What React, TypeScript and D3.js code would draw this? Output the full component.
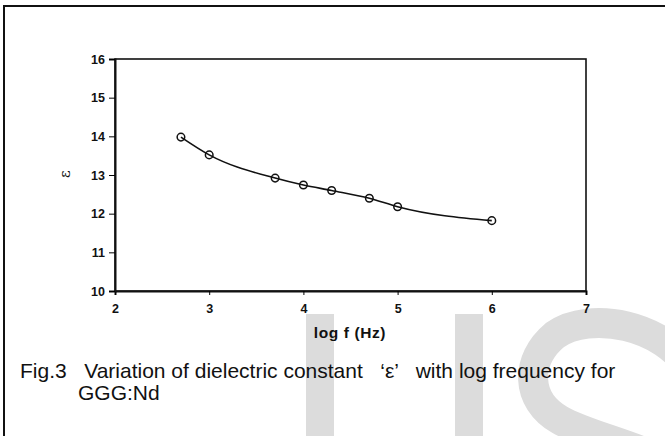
import React, { useEffect, useRef } from "react";
import * as d3 from "d3";

const logFreq = [2.7, 3.0, 3.7, 4.0, 4.3, 4.7, 5.0, 6.0];
const epsilon = [13.98, 13.52, 12.92, 12.74, 12.6, 12.4, 12.18, 11.82];
const xTicks = [2, 3, 4, 5, 6, 7];
const yTicks = [10, 11, 12, 13, 14, 15, 16];
const xLabel = "log f (Hz)";
const yLabel = "\u03b5";
const captionLine1 = "Fig.3   Variation of dielectric constant   \u2018\u03b5\u2019   with log frequency for";
const captionLine2 = "GGG:Nd";

const W = 665;
const H = 436;

export default function App() {
  const ref = useRef<SVGSVGElement>(null);

  useEffect(() => {
    const svg = d3.select(ref.current);
    svg.selectAll("*").remove();

    const x = d3.scaleLinear().domain([2, 7]).range([115, 586]);
    const y = d3.scaleLinear().domain([10, 16]).range([291, 59]);

    // watermark behind everything
    const wm = svg.append("g").attr("fill", "#dcdcdc").attr("stroke", "#dcdcdc");
    wm.append("rect").attr("x", 306).attr("y", 314).attr("width", 28).attr("height", 140).attr("stroke", "none");
    wm.append("rect").attr("x", 455).attr("y", 314).attr("width", 28).attr("height", 140).attr("stroke", "none");
    wm.append("path")
      .attr("fill", "none")
      .attr("stroke-width", 30)
      .attr("d", "M690,370 C665,325 590,310 555,335 C525,360 525,400 560,420 C590,437 640,445 680,470");

    // outer frame
    svg.append("rect")
      .attr("x", 4).attr("y", 6)
      .attr("width", 700).attr("height", 460)
      .attr("fill", "none").attr("stroke", "#111").attr("stroke-width", 2);

    // plot box
    svg.append("rect")
      .attr("x", x(2)).attr("y", y(16))
      .attr("width", x(7) - x(2)).attr("height", y(10) - y(16))
      .attr("fill", "none").attr("stroke", "#111").attr("stroke-width", 1.6);

    const xAxis = svg.append("g")
      .attr("transform", `translate(0,${y(10)})`)
      .call(d3.axisBottom(x).tickValues(xTicks).tickSize(4).tickPadding(9).tickFormat(d3.format("d")));
    xAxis.select(".domain").attr("stroke-width", 2).attr("stroke", "#111");
    xAxis.selectAll("text").attr("font-family", "Liberation Sans, Arial, sans-serif")
      .attr("font-size", 12.5).attr("font-weight", "bold").attr("fill", "#111");

    const yAxis = svg.append("g")
      .attr("transform", `translate(${x(2)},0)`)
      .call(d3.axisLeft(y).tickValues(yTicks).tickSize(6).tickPadding(4).tickFormat(d3.format("d")));
    yAxis.select(".domain").attr("stroke-width", 2).attr("stroke", "#111");
    yAxis.selectAll("text").attr("font-family", "Liberation Sans, Arial, sans-serif")
      .attr("font-size", 12.5).attr("font-weight", "bold").attr("fill", "#111");

    const pts = logFreq.map((f, i) => ({ f, e: epsilon[i] }));

    const line = d3.line<{ f: number; e: number }>()
      .x(d => x(d.f))
      .y(d => y(d.e))
      .curve(d3.curveMonotoneX);

    svg.append("path")
      .datum(pts)
      .attr("fill", "none")
      .attr("stroke", "#111")
      .attr("stroke-width", 1.6)
      .attr("d", line);

    svg.selectAll("circle.pt")
      .data(pts)
      .join("circle")
      .attr("class", "pt")
      .attr("cx", d => x(d.f))
      .attr("cy", d => y(d.e))
      .attr("r", 3.8)
      .attr("fill", "none")
      .attr("stroke", "#111")
      .attr("stroke-width", 1.5);

    svg.append("text")
      .attr("x", 350).attr("y", 338)
      .attr("text-anchor", "middle")
      .attr("font-family", "Liberation Sans, Arial, sans-serif")
      .attr("font-size", 15.5).attr("font-weight", "bold").attr("fill", "#111")
      .attr("letter-spacing", 0.6)
      .text(xLabel);

    svg.append("text")
      .attr("transform", "translate(70,174) rotate(-90)")
      .attr("text-anchor", "middle")
      .attr("font-family", "DejaVu Serif, serif")
      .attr("font-size", 15).attr("fill", "#111")
      .text(yLabel);

    const cap = svg.append("g")
      .attr("font-family", "Liberation Sans, Arial, sans-serif")
      .attr("font-size", 21).attr("fill", "#111");
    cap.append("text").attr("x", 20).attr("y", 378).style("white-space", "pre").text(captionLine1);
    cap.append("text").attr("x", 78).attr("y", 400).text(captionLine2);
  }, []);

  return (
    <svg
      ref={ref}
      width={W}
      height={H}
      style={{ position: "absolute", left: 0, top: 0, background: "#fff" }}
    />
  );
}
